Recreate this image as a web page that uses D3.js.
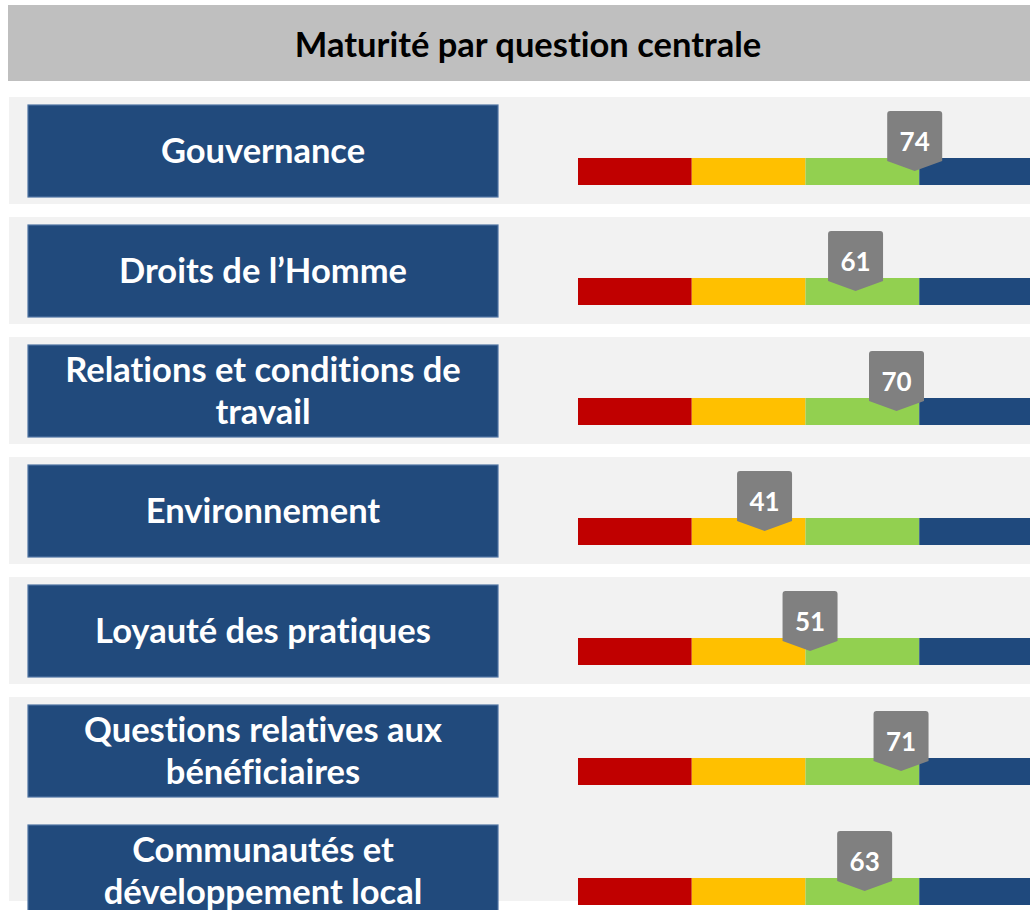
<!DOCTYPE html>
<html>
<head>
<meta charset="utf-8">
<script src="https://cdn.jsdelivr.net/npm/d3@7"></script>
<style>
  html, body { margin: 0; padding: 0; background: #ffffff; }
  svg { display: block; }
  text { font-variant-ligatures: none; font-feature-settings: "liga" 0, "clig" 0; }
</style>
</head>
<body>
<svg id="chart" width="1030" height="910"></svg>
<script>
// ---- data ----
const title = "Maturité par question centrale";
const categories = [
  "Gouvernance",
  "Droits de l’Homme",
  "Relations et conditions de\ntravail",
  "Environnement",
  "Loyauté des pratiques",
  "Questions relatives aux\nbénéficiaires",
  "Communautés et\ndéveloppement local"
];
const values = [74, 61, 70, 41, 51, 71, 63];
const bandBreaks = [0, 25, 50, 75, 100];
const bandColors = ["#C00000", "#FFC000", "#92D050", "#1F497D"];

// ---- layout ----
const W = 1030, H = 910;
const svg = d3.select("#chart");
const FONT = "Lato, 'Open Sans', sans-serif";

// title bar
svg.append("rect").attr("x", 8).attr("y", 5).attr("width", W - 8).attr("height", 76).attr("fill", "#BFBFBF");
svg.append("text").attr("x", 528).attr("y", 57).attr("text-anchor", "middle")
  .attr("font-family", FONT).attr("font-weight", 700).attr("font-size", 34.5).attr("fill", "#000")
  .text(title);

const rows = d3.range(categories.length);
const y = d3.scaleBand().domain(rows).range([105, 105 + 120 * categories.length]).paddingInner(0).paddingOuter(0);
const x = d3.scaleLinear().domain([0, 100]).range([578, 1033]);

// row backgrounds
svg.append("g").selectAll("rect").data(rows).join("rect")
  .attr("x", 9)
  .attr("y", i => y(i) - 8)
  .attr("width", W - 9)
  .attr("height", i => i === categories.length - 1 ? 901 - (y(i) - 8) : (i === categories.length - 2 ? 120 : 107))
  .attr("fill", "#F2F2F2");

const g = svg.append("g").selectAll("g").data(rows).join("g");

// label boxes
g.append("rect")
  .attr("x", 28).attr("y", i => y(i)).attr("width", 470).attr("height", 92)
  .attr("fill", "#214A7C").attr("stroke", "#4F74A3").attr("stroke-width", 1.2);

g.each(function(i) {
  const lines = categories[i].split("\n");
  const t = d3.select(this).append("text")
    .attr("text-anchor", "middle")
    .attr("font-family", FONT).attr("font-weight", 700).attr("font-size", 34.5).attr("fill", "#fff");
  const lh = 42;
  const cy = y(i) + 46;
  lines.forEach((ln, k) => {
    t.append("tspan").attr("x", 263)
      .attr("y", cy + (k - (lines.length - 1) / 2) * lh + 12)
      .text(ln);
  });
});

// colored bars
g.each(function(i) {
  const top = y(i) + 53;
  d3.select(this).selectAll("rect.seg").data(bandColors).join("rect")
    .attr("class", "seg")
    .attr("x", (c, k) => x(bandBreaks[k]))
    .attr("y", top)
    .attr("width", (c, k) => x(bandBreaks[k + 1]) - x(bandBreaks[k]))
    .attr("height", 27)
    .attr("fill", c => c);
});

// markers
g.each(function(i) {
  const top = y(i) + 53;
  const cx = x(values[i]);
  const hw = 27.5, r = 3;
  const bodyTop = top - 47, shoulder = top + 3, tip = top + 13;
  const p = d3.path();
  p.moveTo(cx - hw, bodyTop + r);
  p.quadraticCurveTo(cx - hw, bodyTop, cx - hw + r, bodyTop);
  p.lineTo(cx + hw - r, bodyTop);
  p.quadraticCurveTo(cx + hw, bodyTop, cx + hw, bodyTop + r);
  p.lineTo(cx + hw, shoulder);
  p.lineTo(cx, tip);
  p.lineTo(cx - hw, shoulder);
  p.closePath();
  d3.select(this).append("path").attr("d", p.toString()).attr("fill", "#808080");
  d3.select(this).append("text")
    .attr("x", cx).attr("y", bodyTop + 40)
    .attr("text-anchor", "middle")
    .attr("font-family", FONT).attr("font-weight", 700).attr("font-size", 26).attr("fill", "#fff")
    .text(values[i]);
});
</script>
</body>
</html>
